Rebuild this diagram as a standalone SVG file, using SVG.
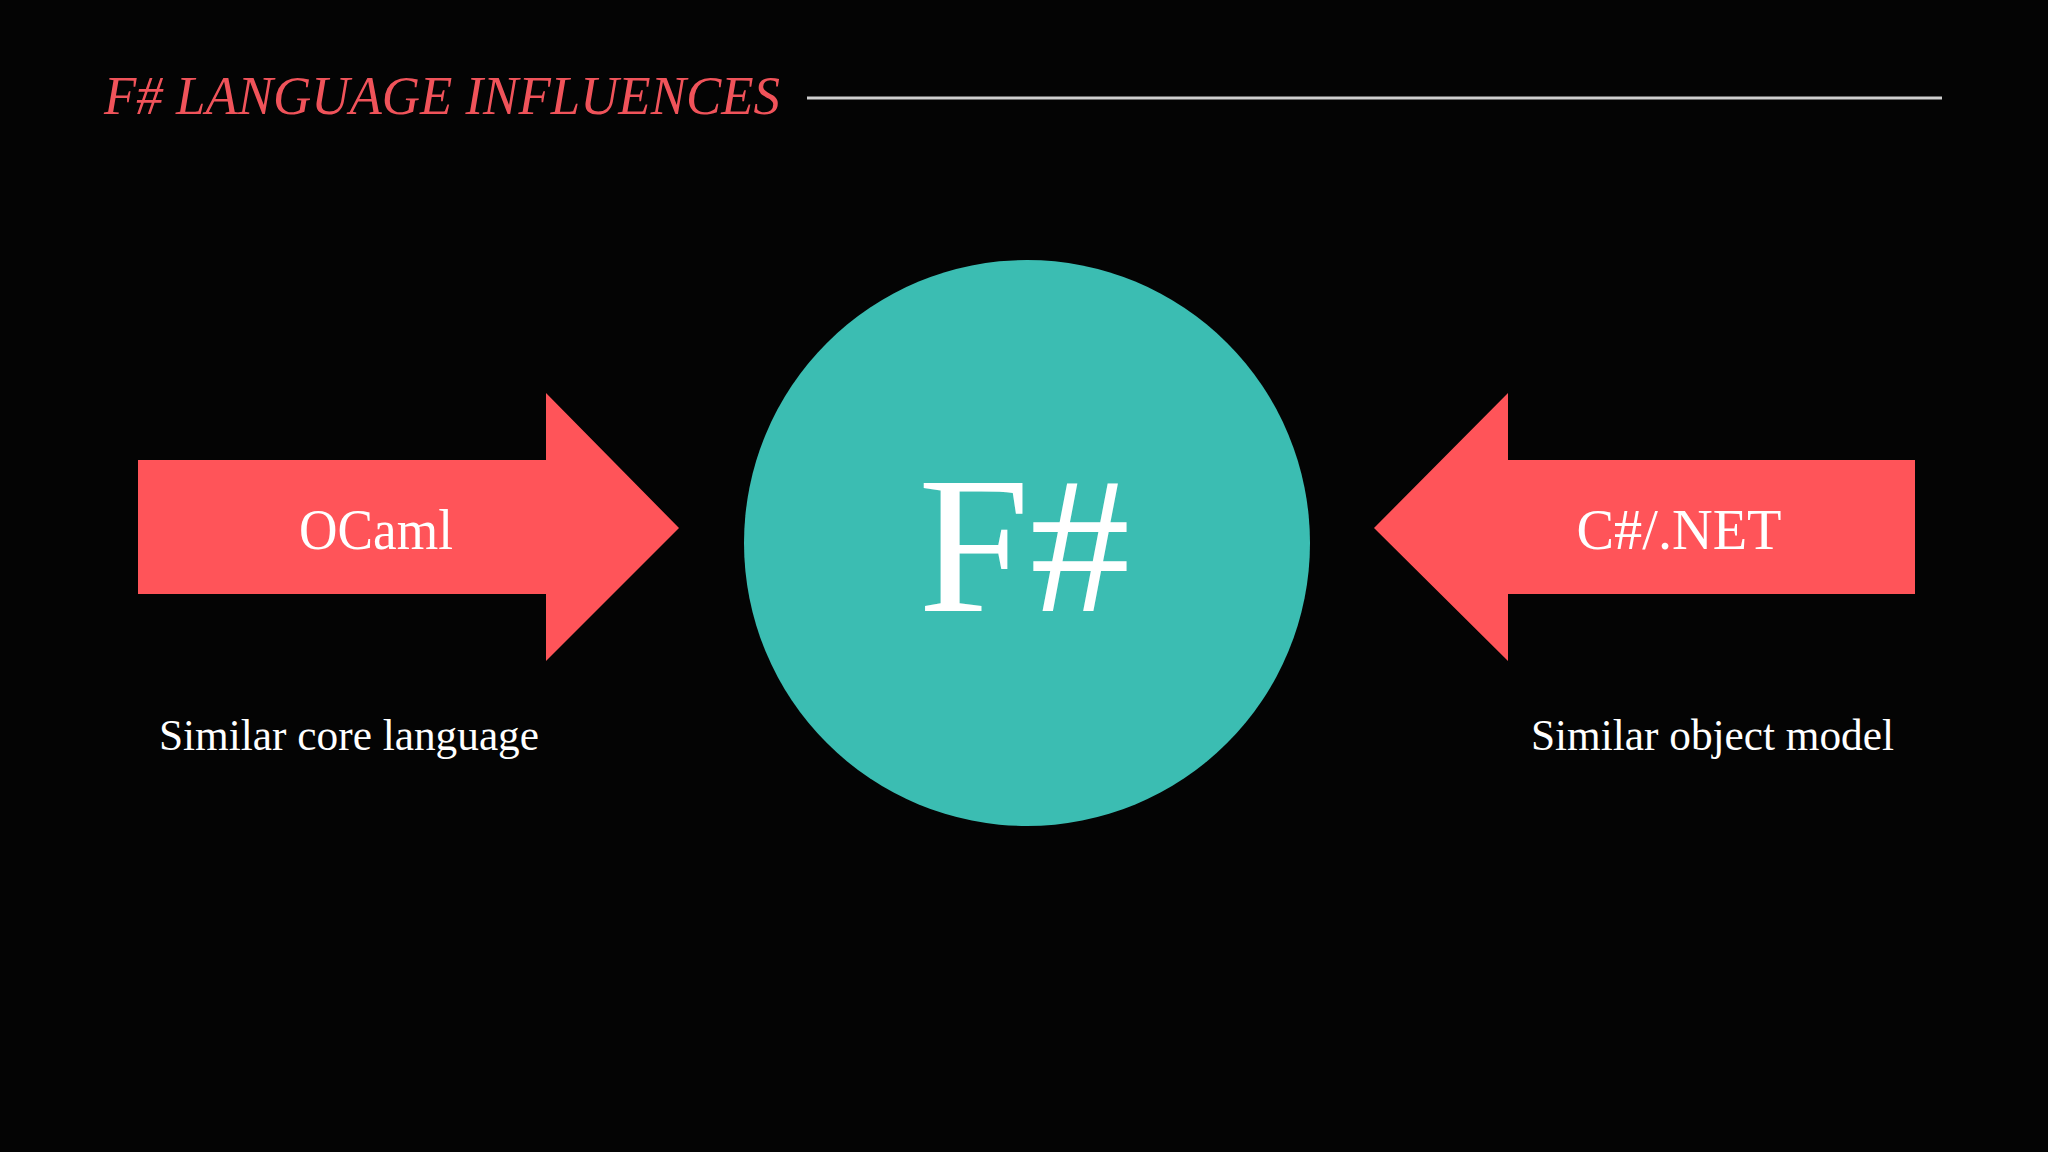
<svg xmlns="http://www.w3.org/2000/svg" width="2048" height="1152" viewBox="0 0 2048 1152">
  <style>
    .serif { font-family: Georgia, "Liberation Serif", "DejaVu Serif", serif; }
    .arrow { fill: #FF5459; }
    .white { fill: #FFFFFF; }
    .label { font-size: 58px; text-anchor: middle; }
    .caption { font-size: 44px; }
  </style>
  <rect x="0" y="0" width="2048" height="1152" fill="#040404"/>

  <g id="title">
    <text class="serif" x="104" y="114" font-size="54" font-style="italic" fill="#F0535A" textLength="676" lengthAdjust="spacingAndGlyphs">F# LANGUAGE INFLUENCES</text>
    <line x1="807" y1="98" x2="1942" y2="98" stroke="#CFCFCF" stroke-width="3"/>
  </g>

  <g id="node-ocaml">
    <polygon class="arrow" points="138,460 546,460 546,393 679,528 546,661 546,594 138,594"/>
    <text class="serif label white" x="376" y="549" textLength="154" lengthAdjust="spacingAndGlyphs">OCaml</text>
  </g>

  <g id="node-fsharp">
    <circle cx="1027" cy="543" r="283" fill="#3BBDB2"/>
    <text class="serif white" x="1024" y="611" font-size="196" text-anchor="middle" textLength="212" lengthAdjust="spacingAndGlyphs">F#</text>
  </g>

  <g id="node-csharp">
    <polygon class="arrow" points="1915,460 1508,460 1508,393 1374,528 1508,661 1508,594 1915,594"/>
    <text class="serif label white" x="1679" y="549" textLength="205" lengthAdjust="spacingAndGlyphs">C#/.NET</text>
  </g>

  <g id="caption-ocaml">
    <text class="serif caption white" x="159" y="750" textLength="380" lengthAdjust="spacingAndGlyphs">Similar core language</text>
  </g>

  <g id="caption-csharp">
    <text class="serif caption white" x="1531" y="750" textLength="363" lengthAdjust="spacingAndGlyphs">Similar object model</text>
  </g>
</svg>
